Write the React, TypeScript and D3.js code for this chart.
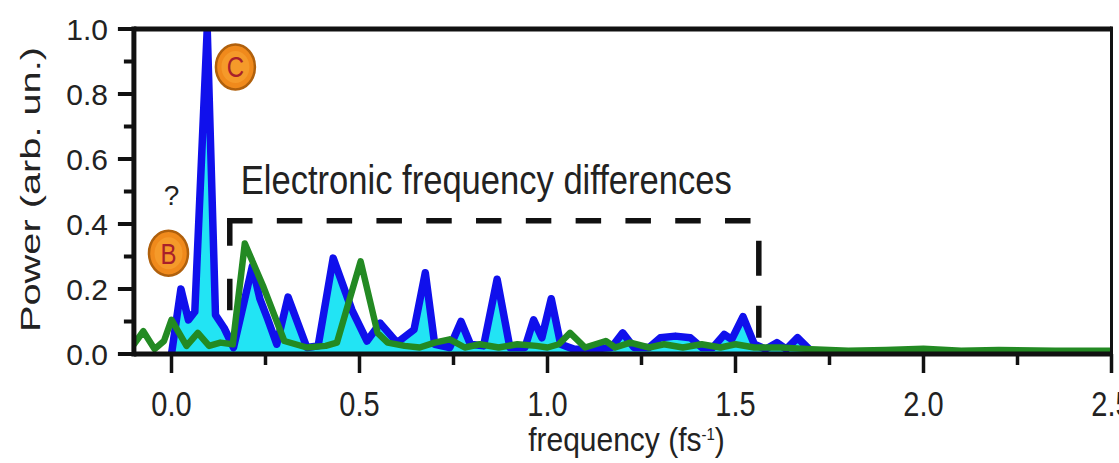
import React from 'react';
import * as d3 from 'd3';

// ---- data ----
const blueFreq = [0.0, 0.025, 0.045, 0.062, 0.095, 0.117, 0.14, 0.165, 0.215, 0.235, 0.255, 0.28, 0.31, 0.36, 0.39, 0.43, 0.48, 0.52, 0.555, 0.6, 0.645, 0.675, 0.70, 0.74, 0.77, 0.795, 0.83, 0.866, 0.9, 0.94, 0.963, 0.985, 1.01, 1.035, 1.07, 1.12, 1.17, 1.2, 1.23, 1.27, 1.3, 1.34, 1.38, 1.41, 1.44, 1.47, 1.49, 1.52, 1.55, 1.58, 1.61, 1.635, 1.665, 1.7, 1.75];
const bluePower = [0.0, 0.2, 0.105, 0.13, 1.0, 0.12, 0.08, 0.02, 0.27, 0.17, 0.11, 0.03, 0.175, 0.02, 0.025, 0.295, 0.135, 0.04, 0.095, 0.035, 0.075, 0.25, 0.03, 0.02, 0.1, 0.03, 0.025, 0.23, 0.02, 0.02, 0.105, 0.05, 0.17, 0.03, 0.015, 0.015, 0.02, 0.065, 0.02, 0.02, 0.05, 0.055, 0.05, 0.02, 0.02, 0.06, 0.045, 0.115, 0.03, 0.015, 0.035, 0.015, 0.05, 0.01, 0.0];

const greenFreq = [-0.1, -0.075, -0.045, -0.02, 0.0, 0.04, 0.07, 0.1, 0.13, 0.163, 0.195, 0.245, 0.3, 0.36, 0.41, 0.44, 0.503, 0.548, 0.575, 0.62, 0.66, 0.7, 0.74, 0.78, 0.82, 0.87, 0.92, 0.97, 1.0, 1.03, 1.06, 1.1, 1.155, 1.18, 1.22, 1.27, 1.31, 1.36, 1.41, 1.46, 1.5, 1.55, 1.62, 1.7, 1.8, 1.9, 2.0, 2.1, 2.2, 2.35, 2.5];
const greenPower = [0.03, 0.07, 0.015, 0.04, 0.105, 0.025, 0.065, 0.025, 0.035, 0.03, 0.34, 0.205, 0.04, 0.02, 0.025, 0.035, 0.285, 0.065, 0.035, 0.025, 0.02, 0.035, 0.045, 0.02, 0.03, 0.02, 0.03, 0.025, 0.02, 0.03, 0.065, 0.02, 0.04, 0.02, 0.035, 0.02, 0.03, 0.02, 0.03, 0.02, 0.03, 0.02, 0.02, 0.015, 0.01, 0.012, 0.016, 0.01, 0.012, 0.01, 0.01];

const xTicks = [0.0, 0.5, 1.0, 1.5, 2.0, 2.5];
const xTickLabels = ['0.0', '0.5', '1.0', '1.5', '2.0', '2.5'];
const xMinorTicks = [0.25, 0.75, 1.25, 1.75, 2.25];
const yTicks = [0.0, 0.2, 0.4, 0.6, 0.8, 1.0];
const yTickLabels = ['0.0', '0.2', '0.4', '0.6', '0.8', '1.0'];
const yMinorTicks = [0.1, 0.3, 0.5, 0.7, 0.9];

// dashed "electronic frequency differences" box, in data units
const boxFreq = [0.155, 1.562];
const boxPowerTop = 0.41;
const boxPowerLeftBottom = 0.135;
const boxPowerRightBottom = 0.05;

const markerLabels = ['B', 'C'];
const markerFreq = [-0.008, 0.17];
const markerPower = [0.31, 0.883];

const questionFreq = 0.0;
const questionPower = 0.46;
const boxLabelText = 'Electronic frequency differences';

export default function App() {
  const W = 1119;
  const H = 463;
  const x = d3.scaleLinear().domain([-0.1, 2.5]).range([133.9, 1111.5]);
  const y = d3.scaleLinear().domain([0, 1]).range([354, 29]);

  const blue = blueFreq.map((f, i) => [f, bluePower[i]] as [number, number]);
  const green = greenFreq.map((f, i) => [f, greenPower[i]] as [number, number]);

  const line = d3
    .line<[number, number]>()
    .x((d) => x(d[0]))
    .y((d) => y(d[1]))
    .curve(d3.curveLinear);
  const area = d3
    .area<[number, number]>()
    .x((d) => x(d[0]))
    .y0(y(0))
    .y1((d) => y(d[1]))
    .curve(d3.curveLinear);

  const x0 = x(-0.1);
  const x1 = x(2.5);
  const textColor = '#222';
  const font = "'Liberation Sans', Arial, sans-serif";

  return (
    <svg
      width={W}
      height={H}
      style={{ position: 'absolute', left: 0, top: 0, background: '#fff' }}
      fontFamily={font}
    >
      <defs>
        <clipPath id="plotClip">
          <rect x={x0} y={y(1)} width={x1 - x0} height={y(0) - y(1)} />
        </clipPath>
      </defs>

      {/* data */}
      <g clipPath="url(#plotClip)">
        <path d={area(blue) || ''} fill="#22e4f4" stroke="none" />
        <path
          d={line(blue) || ''}
          fill="none"
          stroke="#1010ec"
          strokeWidth={7.5}
          strokeLinejoin="round"
          strokeLinecap="round"
        />
        <path
          d={line(green) || ''}
          fill="none"
          stroke="#238a23"
          strokeWidth={6.5}
          strokeLinejoin="round"
          strokeLinecap="round"
        />
      </g>

      {/* dashed box */}
      <g stroke="#111" strokeWidth={5.5} fill="none">
        <path
          d={`M${x(boxFreq[0])},${y(boxPowerTop)}L${x(boxFreq[0])},${y(boxPowerLeftBottom)}`}
          strokeDasharray="25 33 40"
        />
        <path
          d={`M${x(boxFreq[0]) - 2.75},${y(boxPowerTop)}L${x(boxFreq[1])},${y(boxPowerTop)}`}
          strokeDasharray="25.5 24.3"
        />
        <path
          d={`M${x(boxFreq[1])},${y(boxPowerTop)}L${x(boxFreq[1])},${y(boxPowerRightBottom)}`}
          strokeDasharray="0 20 35 30 32 100"
        />
      </g>

      {/* annotations */}
      <text
        x={(x(boxFreq[0]) + x(boxFreq[1])) / 2 - 8}
        y={0}
        transform={`translate(0,${194}) scale(1,1.2)`}
        fontSize={34}
        textAnchor="middle"
        textLength={491}
        lengthAdjust="spacingAndGlyphs"
        fill={textColor}
      >
        {boxLabelText}
      </text>
      <text
        x={x(questionFreq)}
        y={y(questionPower)}
        fontSize={28}
        textAnchor="middle"
        fill={textColor}
      >
        ?
      </text>
      {markerLabels.map((lab, i) => (
        <g key={lab} transform={`translate(${x(markerFreq[i])},${y(markerPower[i])})`}>
          <ellipse rx={19.5} ry={22.5} fill="#f08a1c" stroke="#b0600c" strokeWidth={2.5} />
          <ellipse rx={14} ry={16} fill="#f59a2a" stroke="none" />
          <text
            y={0}
            transform="scale(1,1.2)"
            dy="0.36em"
            fontSize={24}
            textAnchor="middle"
            fill="#a8202a"
          >
            {lab}
          </text>
        </g>
      ))}

      {/* axes frame */}
      <g stroke="#111" fill="none">
        <line x1={x0} x2={x1} y1={y(1)} y2={y(1)} strokeWidth={5} />
        <line x1={x1} x2={x1} y1={y(1) - 2.5} y2={y(0)} strokeWidth={3} />
        <line x1={x0} x2={x1 + 1.5} y1={y(0)} y2={y(0)} strokeWidth={5} />
        <line x1={x0} x2={x0} y1={y(1) - 2.5} y2={y(0) + 2.5} strokeWidth={5} />
        {yTicks.map((t) => (
          <line key={'yt' + t} x1={x0 - 16} x2={x0} y1={y(t)} y2={y(t)} strokeWidth={4} />
        ))}
        {yMinorTicks.map((t) => (
          <line key={'ym' + t} x1={x0 - 10} x2={x0} y1={y(t)} y2={y(t)} strokeWidth={4} />
        ))}
        {xTicks.map((t) => (
          <line key={'xt' + t} x1={x(t)} x2={x(t)} y1={y(0)} y2={y(0) + 19} strokeWidth={3.5} />
        ))}
        {xMinorTicks.map((t) => (
          <line key={'xm' + t} x1={x(t)} x2={x(t)} y1={y(0)} y2={y(0) + 11} strokeWidth={3.5} />
        ))}
      </g>

      {/* tick labels */}
      {yTicks.map((t, i) => (
        <text
          key={'yl' + t}
          x={108}
          y={y(t) + 10.5}
          fontSize={30}
          textAnchor="end"
          fill={textColor}
        >
          {yTickLabels[i]}
        </text>
      ))}
      {xTicks.map((t, i) => (
        <text
          key={'xl' + t}
          transform={`translate(${x(t)},416) scale(1,1.2)`}
          fontSize={29}
          textAnchor="middle"
          fill={textColor}
        >
          {xTickLabels[i]}
        </text>
      ))}

      {/* axis titles */}
      <text
        transform={`translate(39.5,189.5) rotate(-90)`}
        fontSize={27}
        textAnchor="middle"
        textLength={285}
        lengthAdjust="spacingAndGlyphs"
        fill={textColor}
      >
        Power (arb. un.)
      </text>
      <text
        transform={`translate(626.5,451) scale(1,1.1)`}
        fontSize={30}
        textAnchor="middle"
        fill={textColor}
      >
        frequency (fs
        <tspan fontSize={15} dy={-10}>
          -1
        </tspan>
        <tspan dy={10}>)</tspan>
      </text>
    </svg>
  );
}
